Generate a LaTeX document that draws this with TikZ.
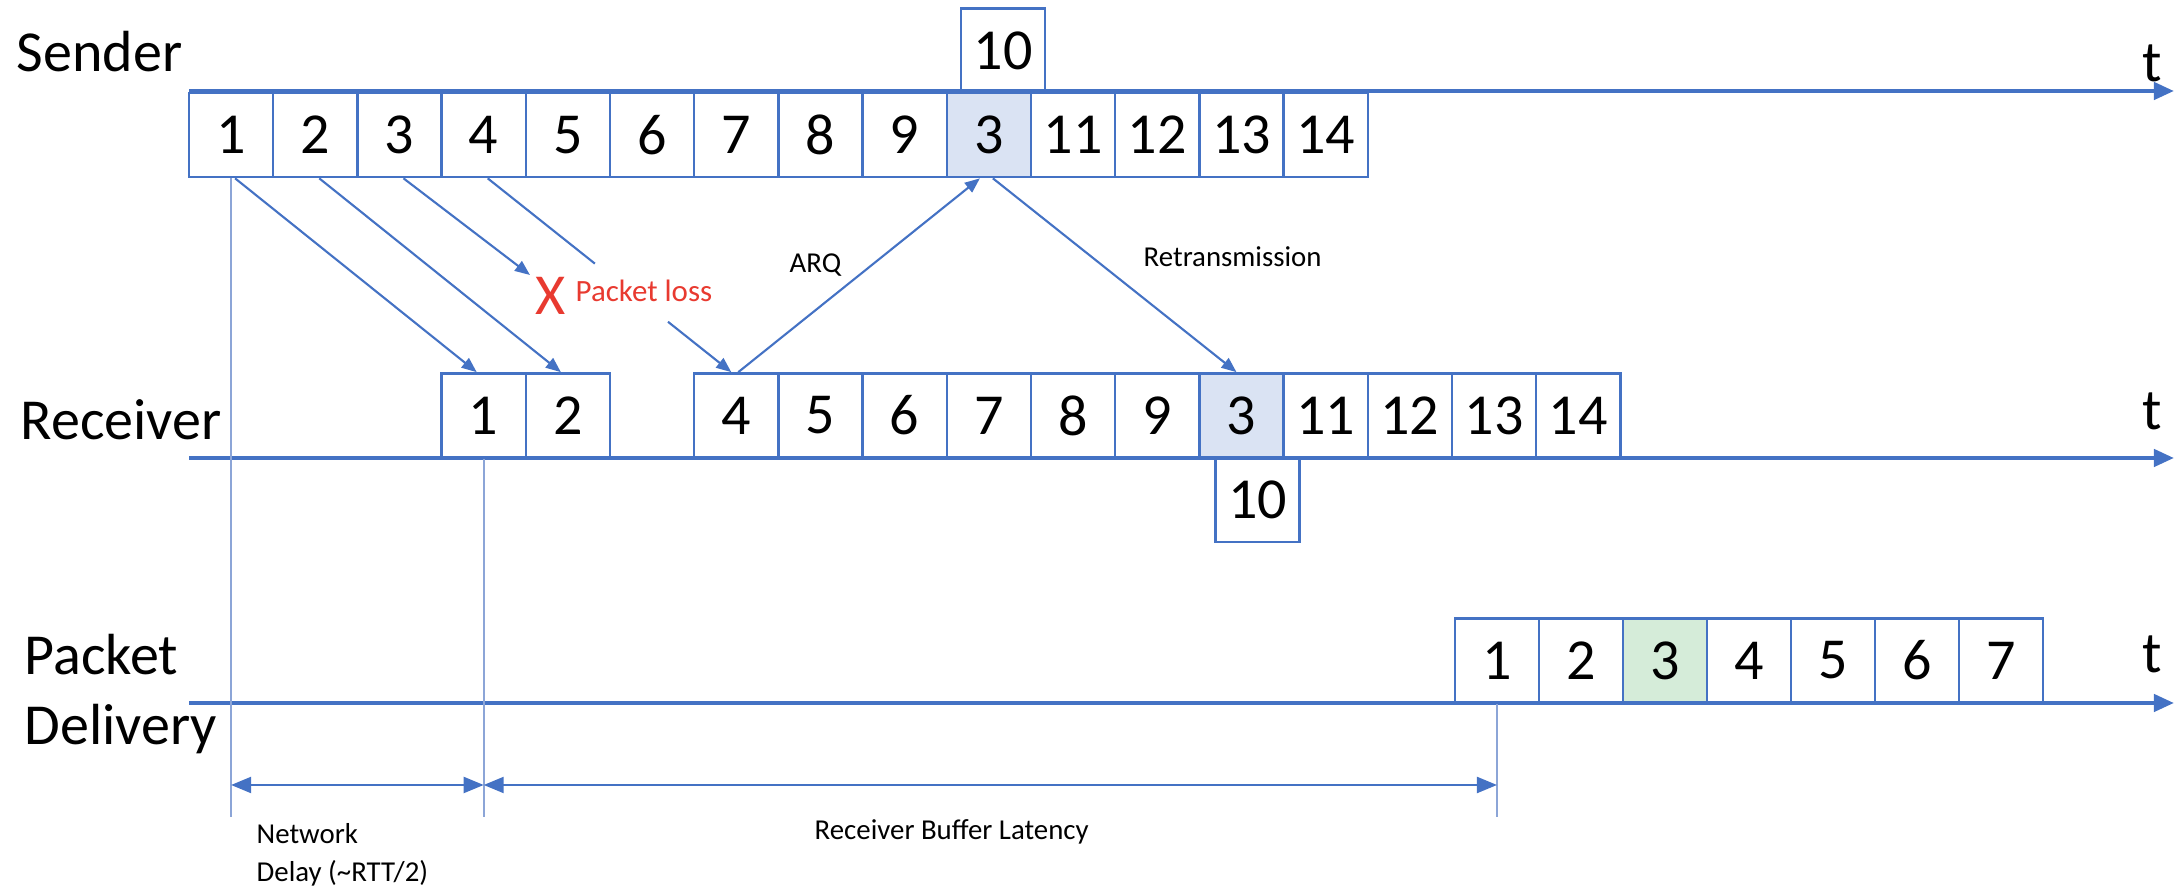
\documentclass[tikz,border=0pt]{standalone}
\usepackage{fontspec}
\setmainfont{Carlito}
\usetikzlibrary{arrows.meta,calc}
\definecolor{obl}{RGB}{68,114,196}
\definecolor{vline}{RGB}{140,165,215}
\definecolor{rfill}{RGB}{218,227,243}
\definecolor{gfill}{RGB}{213,236,217}
\definecolor{lossred}{RGB}{232,58,48}
\begin{document}
\begin{tikzpicture}[x=0.01cm,y=-0.01cm,
  pbox/.style={draw=obl,line width=0.7pt,minimum width=0.842cm,minimum height=0.842cm,inner sep=0pt,font=\fontsize{16.5}{20}\selectfont,text=black},
  big/.style={inner sep=0pt,font=\fontsize{16.5}{20}\selectfont,anchor=base west},
  small/.style={inner sep=0pt,font=\fontsize{8.2}{10.8}\selectfont,anchor=base west},
  axisline/.style={draw=obl,line width=1.2pt,-{Triangle[length=0.2cm,width=0.17cm]}},
  pkt/.style={draw=obl,line width=0.6pt,-{Triangle[length=0.15cm,width=0.12cm]}},
  pktline/.style={draw=obl,line width=0.6pt},
  vl/.style={draw=vline,line width=0.6pt},
  dim/.style={draw=obl,line width=0.6pt,{Triangle[length=0.2cm,width=0.16cm]}-{Triangle[length=0.2cm,width=0.16cm]}}]
\useasboundingbox (0,0) rectangle (2177,889);

% Sender boxes
\foreach \i in {1,...,9,11,12,13,14}{
  \node[pbox] (s\i) at ({189+84.2*(\i-1)+42.1},135) {\i};
}
\node[pbox,fill=rfill] (s10) at ({189+84.2*9+42.1},135) {3};
\node[pbox] (sx) at (1003,50.5) {10};

% Receiver boxes
\foreach \i in {1,2,4,5,6,7,8,9,11,12,13,14}{
  \node[pbox] (r\i) at ({189+84.2*(\i+2)+42.1},415.5) {\i};
}
\node[pbox,fill=rfill] (r3) at ({189+84.2*12+42.1},415.5) {3};
\node[pbox] (rx) at (1257.5,500) {10};

% Delivery boxes
\foreach \i in {1,2,4,5,6,7}{
  \node[pbox] (d\i) at ({1455+84*(\i-1)+42},660.5) {\i};
}
\node[pbox,fill=gfill] (d3) at ({1455+84*2+42},660.5) {3};

% Axes
\coordinate (sa0) at (189,91);  \coordinate (sa1) at (2174,91);
\coordinate (ra0) at (189,458); \coordinate (ra1) at (2174,458);
\coordinate (da0) at (189,703); \coordinate (da1) at (2174,703);
\draw[axisline] (sa0) -- (sa1);
\draw[axisline] (ra0) -- (ra1);
\draw[axisline] (da0) -- (da1);

% Row labels
\node[big] (lsend) at (16,72) {Sender};
\node[big] (lrecv) at (20,440) {Receiver};
\node[big] (lpack) at (24,675) {Packet};
\node[big] (ldeli) at (24,745) {Delivery};
\node[big] (ts) at (2142,82) {t};
\node[big] (tr) at (2142,430) {t};
\node[big] (td) at (2142,673) {t};

% Packet arrows
\draw[pkt] ([xshift=0.04cm]s1.south) -- ([xshift=-0.07cm]r1.north);
\draw[pkt] ([xshift=0.04cm]s2.south) -- ([xshift=-0.07cm]r2.north);
\coordinate (lost) at (530,275);
\draw[pkt] ([xshift=0.04cm]s3.south) -- (lost);
\coordinate (b1) at ($([xshift=0.04cm]s4.south)!0.44!([xshift=-0.05cm]r4.north)$);
\coordinate (b2) at ($([xshift=0.04cm]s4.south)!0.74!([xshift=-0.05cm]r4.north)$);
\draw[pktline] ([xshift=0.04cm]s4.south) -- (b1);
\draw[pkt] (b2) -- ([xshift=-0.05cm]r4.north);
\draw[pkt] ([xshift=0.02cm]r4.north) -- ([xshift=-0.09cm]s10.south);
\draw[pkt] ([xshift=0.04cm]s10.south) -- ([xshift=-0.05cm]r3.north);

\node[big,text=lossred] (xmark) at (535,315) {X};
\node[small,text=lossred,font=\fontsize{8.8}{11}\selectfont] (loss) at (575,302) {Packet loss};
\node[small] (arq) at (789,273) {ARQ};
\node[small] (retx) at (1143,267) {Retransmission};

% Vertical guides
\coordinate (vb) at (0,817);
\draw[vl] (s1.south) -- (s1.south |- vb);
\draw[vl] (r1.south) -- (r1.south |- vb);
\draw[vl] (d1.south) -- (d1.south |- vb);

% Dimension arrows
\coordinate (dy) at (0,785);
\draw[dim] (s1.south |- dy) -- (r1.south |- dy);
\draw[dim] (r1.south |- dy) -- (d1.south |- dy);
\node[small,align=left,anchor=north west] (netd) at (256,823) {Network\\Delay (\textasciitilde RTT/2)};
\node[small] (rbl) at (814,840) {Receiver Buffer Latency};
\end{tikzpicture}
\end{document}
